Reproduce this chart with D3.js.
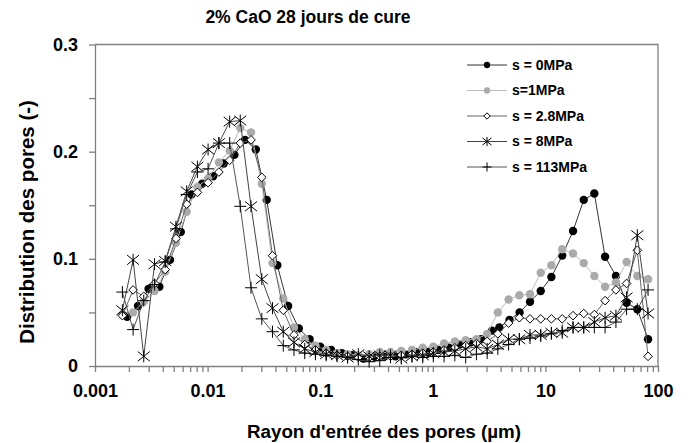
<!DOCTYPE html>
<html>
  <head>
    <meta charset="utf-8" />
    <title>2% CaO 28 jours de cure</title>
    <script src="https://d3js.org/d3.v7.min.js"></script>
    <style>
      body { margin: 0; background: #fff; }
      svg { font-family: "Liberation Sans", Arial, sans-serif; font-weight: bold; }
      .axis path, .axis line { stroke: #808080; stroke-width: 1.3; }
      .axis text { font-size: 18px; font-weight: bold; fill: #000; }
      .legend text { font-size: 14px; }
    </style>
  </head>
  <body>
    <svg width="691" height="443"></svg>
    <script>
      // pore radius (µm) for each measured point
      const radius = [0.00175, 0.00218, 0.00271, 0.00338, 0.0042, 0.00524, 0.00652, 0.00812, 0.0101, 0.0126,
                      0.0157, 0.0195, 0.0243, 0.0303, 0.0377, 0.047, 0.0585, 0.0729, 0.0907, 0.113,
                      0.141, 0.175, 0.218, 0.272, 0.338, 0.421, 0.525, 0.653, 0.814, 1.01,
                      1.26, 1.57, 1.96, 2.44, 3.04, 3.78, 4.71, 5.87, 7.3, 9.09,
                      11.3, 14.1, 17.6, 21.9, 27.2, 33.9, 42.3, 52.6, 65.5, 81.6];
      const radiusS0 = [0.00193, 0.00241, 0.00299, 0.00373, 0.00464, 0.00578, 0.0072, 0.00896, 0.0112, 0.0139,
                        0.0173, 0.0215, 0.0268, 0.0335, 0.0416, 0.0519, 0.0646, 0.0805, 0.1, 0.125,
                        0.156, 0.193, 0.241, 0.3, 0.373, 0.465, 0.58, 0.721, 0.899, 1.12,
                        1.39, 1.73, 2.16, 2.69, 3.36, 3.9, 4.8, 5.9, 7.3, 9.09,
                        11.3, 14.1, 17.6, 21.9, 27.2, 33.9, 42.3, 52.6, 65.5, 81.6];

      const s0 = [0.046, 0.056, 0.072, 0.074, 0.099, 0.125, 0.160, 0.170, 0.177, 0.189,
                  0.197, 0.211, 0.202, 0.155, 0.094, 0.056, 0.035, 0.025, 0.018, 0.015,
                  0.012, 0.010, 0.007, 0.009, 0.009, 0.009, 0.011, 0.013, 0.013, 0.015,
                  0.017, 0.020, 0.022, 0.025, 0.033, 0.036, 0.043, 0.050, 0.060, 0.070,
                  0.083, 0.103, 0.126, 0.155, 0.161, 0.102, 0.084, 0.059, 0.053, 0.025];
      const s1 = [0.048, 0.050, 0.060, 0.070, 0.088, 0.115, 0.144, 0.167, 0.175, 0.190,
                  0.201, 0.222, 0.218, 0.170, 0.096, 0.063, 0.036, 0.025, 0.019, 0.015,
                  0.012, 0.011, 0.010, 0.011, 0.013, 0.013, 0.014, 0.015, 0.017, 0.018,
                  0.021, 0.023, 0.024, 0.025, 0.030, 0.050, 0.062, 0.066, 0.067, 0.087,
                  0.094, 0.109, 0.105, 0.096, 0.084, 0.074, 0.078, 0.097, 0.084, 0.081];
      const s28 = [0.047, 0.071, 0.065, 0.077, 0.090, 0.119, 0.151, 0.162, 0.171, 0.181,
                   0.192, 0.208, 0.211, 0.176, 0.103, 0.052, 0.029, 0.020, 0.015, 0.012,
                   0.010, 0.009, 0.008, 0.008, 0.009, 0.009, 0.010, 0.011, 0.012, 0.013,
                   0.015, 0.017, 0.019, 0.021, 0.023, 0.030, 0.040, 0.045, 0.044, 0.044,
                   0.044, 0.044, 0.047, 0.049, 0.048, 0.061, 0.071, 0.077, 0.108, 0.009];
      const s8 = [0.052, 0.099, 0.009, 0.095, 0.098, 0.130, 0.163, 0.186, 0.202, 0.208,
                  0.228, 0.229, 0.149, 0.081, 0.054, 0.032, 0.022, 0.016, 0.013, 0.011,
                  0.010, 0.008, 0.011, 0.009, 0.010, 0.010, 0.007, 0.009, 0.010, 0.012,
                  0.013, 0.014, 0.016, 0.018, 0.016, 0.020, 0.025, 0.025, 0.029, 0.029,
                  0.031, 0.031, 0.036, 0.036, 0.041, 0.045, 0.047, 0.064, 0.122, 0.049];
      const s113 = [0.069, 0.034, 0.061, 0.076, 0.097, 0.128, 0.160, 0.181, 0.184, 0.208,
                    0.208, 0.149, 0.073, 0.044, 0.032, 0.019, 0.015, 0.012, 0.011, 0.010,
                    0.009, 0.008, 0.006, 0.004, 0.005, 0.008, 0.008, 0.009, 0.008, 0.009,
                    0.009, 0.010, 0.008, 0.011, 0.012, 0.016, 0.020, 0.025, 0.026, 0.028,
                    0.030, 0.033, 0.036, 0.036, 0.036, 0.036, 0.041, 0.053, 0.053, 0.071];

      const xDecades = [0.001, 0.01, 0.1, 1, 10, 100];
      const yTicks = [0, 0.05, 0.1, 0.15, 0.2, 0.25, 0.3];

      const series = [
        { name: "s = 0MPa",   x: radiusS0, y: s0,   line: "#333", marker: "circle" },
        { name: "s=1MPa",     x: radius,   y: s1,   line: "#bbb", marker: "gcircle" },
        { name: "s = 2.8MPa", x: radius,   y: s28,  line: "#666", marker: "diamond" },
        { name: "s = 8MPa",   x: radius,   y: s8,   line: "#444", marker: "star" },
        { name: "s = 113MPa", x: radius,   y: s113, line: "#555", marker: "plus" }
      ];

      const svg = d3.select("svg");
      const plotL = 95, plotR = 658, plotT = 44.5, plotB = 366;

      const x = d3.scaleLog().domain([0.001, 100]).range([plotL, plotR]);
      const y = d3.scaleLinear().domain([0, 0.3]).range([plotB, plotT]);

      // frame (top and right)
      svg.append("path")
         .attr("d", `M${plotL},${plotT}H${plotR}V${plotB}`)
         .attr("fill", "none").attr("stroke", "#808080").attr("stroke-width", 1.3);

      // x axis with minor ticks
      const xTickVals = [];
      xDecades.slice(0, -1).forEach(d => { for (let k = 1; k < 10; k++) xTickVals.push(d * k); });
      xTickVals.push(100);
      const xAxis = svg.append("g").attr("class", "axis")
         .attr("transform", `translate(0,${plotB})`)
         .call(d3.axisBottom(x).tickValues(xTickVals).tickSize(6).tickSizeOuter(0)
               .tickFormat(d => xDecades.includes(d) ? String(d) : ""));
      xAxis.selectAll("text").attr("dy", "1.2em");

      const yAxis = svg.append("g").attr("class", "axis")
         .attr("transform", `translate(${plotL},0)`)
         .call(d3.axisLeft(y).tickValues(yTicks).tickSize(6).tickSizeOuter(0)
               .tickFormat(d => (Math.round(d * 100) % 10 === 0) ? String(+d.toFixed(1)) : ""));
      yAxis.selectAll("text").attr("dx", "-0.45em");

      // marker drawing
      function drawMarker(g, type, big) {
        const s = big ? 1 : 0.75;
        if (type === "circle") {
          g.append("circle").attr("r", 4.2 * s).attr("fill", "#000");
        } else if (type === "gcircle") {
          g.append("circle").attr("r", 4.2 * s).attr("fill", "#aaa");
        } else if (type === "diamond") {
          const r = 4.3 * s;
          g.append("path").attr("d", `M0,${-r}L${r},0L0,${r}L${-r},0Z`)
           .attr("fill", "#fff").attr("stroke", "#000").attr("stroke-width", 1);
        } else if (type === "star") {
          const r = 6 * s;
          g.append("path").attr("d", `M${-r},${-r * 0.8}L${r},${r * 0.8}M${-r},${r * 0.8}L${r},${-r * 0.8}M0,${-r}V${r}`)
           .attr("stroke", "#000").attr("stroke-width", 1).attr("fill", "none");
        } else if (type === "plus") {
          const r = 6 * s;
          g.append("path").attr("d", `M${-r},0H${r}M0,${-r}V${r}`)
           .attr("stroke", "#000").attr("stroke-width", 1).attr("fill", "none");
        }
      }

      const line = d3.line().x(d => x(d[0])).y(d => y(d[1]));

      series.forEach(s => {
        const pts = s.x.map((v, i) => [v, s.y[i]]);
        svg.append("path").datum(pts)
           .attr("d", line).attr("fill", "none")
           .attr("stroke", s.line).attr("stroke-width", 1);
        pts.forEach(p => {
          const g = svg.append("g").attr("transform", `translate(${x(p[0])},${y(p[1])})`);
          drawMarker(g, s.marker, true);
        });
      });

      // legend
      const legend = svg.append("g").attr("class", "legend");
      series.forEach((s, i) => {
        const ly = 65 + i * 25.5;
        legend.append("line").attr("x1", 467).attr("x2", 507).attr("y1", ly).attr("y2", ly)
              .attr("stroke", s.line).attr("stroke-width", 1);
        drawMarker(legend.append("g").attr("transform", `translate(487,${ly})`), s.marker, false);
        legend.append("text").attr("x", 512).attr("y", ly).attr("dy", "0.35em").text(s.name);
      });

      // title and axis titles
      svg.append("text").attr("x", 308).attr("y", 23).attr("text-anchor", "middle")
         .style("font-size", "17.5px").text("2% CaO 28 jours de cure");
      svg.append("text").attr("x", 384).attr("y", 438).attr("text-anchor", "middle")
         .style("font-size", "18.8px").text("Rayon d'entrée des pores (µm)");
      svg.append("text").attr("transform", "translate(34,222) rotate(-90)").attr("text-anchor", "middle")
         .style("font-size", "20.5px").text("Distribution des pores (-)");
    </script>
  </body>
</html>
